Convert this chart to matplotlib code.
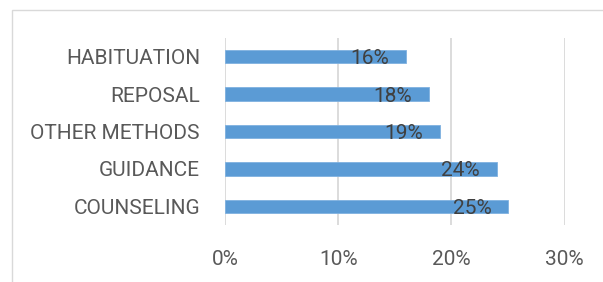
import matplotlib
matplotlib.use("Agg")
import matplotlib.pyplot as plt
from matplotlib.patches import Rectangle
from matplotlib.ticker import FuncFormatter

# categories bottom-to-top, as in the source chart
methods = ["COUNSELING", "GUIDANCE", "OTHER METHODS", "REPOSAL", "HABITUATION"]
shares = [0.25, 0.24, 0.19, 0.18, 0.16]
x_ticks = [0.0, 0.1, 0.2, 0.3]

plt.rcParams['font.family'] = ['Roboto', 'DejaVu Sans']

W, H = 603, 282
fig = plt.figure(figsize=(W / 100, H / 100), dpi=100)

# outer chart frame (light gray, runs off right/bottom edge)
fig.patches.append(Rectangle((12 / W, -0.2), 1.2, 1.2 - 9.5 / H,
                             transform=fig.transFigure, fill=False,
                             edgecolor="#D9D9D9", linewidth=1.0))

ax = fig.add_axes([225 / W, 1 - 225 / H, (564.5 - 225) / W, (225 - 38) / H])

ypos = range(len(methods))
ax.barh(ypos, shares, height=0.36, color="#5B9BD5", edgecolor="#7FB1E0",
        linewidth=0.6, zorder=3)

for y, v in zip(ypos, shares):
    ax.annotate(f"{v * 100:.0f}%", xy=(v, y), xytext=(-12, -1.5),
                textcoords="offset points", ha="right", va="center",
                fontsize=15, color="#404040", zorder=4)

ax.set_xlim(0, 0.30)
ax.set_ylim(-0.5, len(methods) - 0.5)
ax.set_xticks(x_ticks)
ax.xaxis.set_major_formatter(FuncFormatter(lambda v, p: f"{v * 100:.0f}%"))
ax.set_yticks(list(ypos))
ax.set_yticklabels(methods)

ax.grid(axis="x", color="#D9D9D9", linewidth=1.3, zorder=0)
for s in ax.spines.values():
    s.set_visible(False)
ax.tick_params(axis="both", length=0, labelsize=15, labelcolor="#595959")
ax.tick_params(axis="y", pad=18)
ax.tick_params(axis="x", pad=18)

fig.savefig("out.png", dpi=100)
